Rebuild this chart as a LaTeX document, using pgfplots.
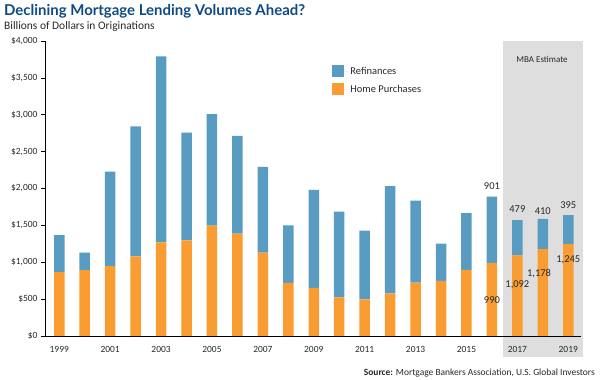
\documentclass[border=0pt]{standalone}
\usepackage{pgfplots}
\pgfplotsset{compat=1.18}
\usepackage{fontspec}
\setmainfont{Carlito}
\newfontfamily\titlefont{Lato}
\definecolor{refi}{RGB}{88,157,193}
\definecolor{purch}{RGB}{249,157,51}
\definecolor{mbagray}{RGB}{222,222,222}
\definecolor{titleblue}{RGB}{14,75,130}
\definecolor{txt}{RGB}{40,40,40}
\begin{document}
\begin{tikzpicture}
\useasboundingbox (0bp,0bp) rectangle (600bp,380bp);
\fill[mbagray] (502.7bp,23bp) rectangle (582.7bp,338.7bp);
\node[anchor=base west, inner sep=0pt, font=\titlefont\bfseries\fontsize{15}{18}\selectfont, text=titleblue] at (4bp,364bp) {Declining Mortgage Lending Volumes Ahead?};
\node[anchor=base west, inner sep=0pt, font=\fontsize{11.5}{13}\selectfont, text=txt] at (4bp,350bp) {Billions of Dollars in Originations};
\node[anchor=base east, inner sep=0pt, font=\fontsize{9.5}{11}\selectfont, text=txt] at (595bp,5bp) {\textbf{Source:} Mortgage Bankers Association, U.S. Global Investors};
\begin{axis}[
  at={(45bp,44bp)}, anchor=south west,
  scale only axis, width=536bp, height=295bp,
  xmin=-0.56, xmax=20.5, ymin=0, ymax=4000,
  ybar stacked, bar width=10.5bp,
  clip=false,
  axis x line*=bottom, axis y line*=left,
  axis line style={black, line width=0.8pt, -},
  xtick={0,2,...,20},
  xticklabels={1999,2001,2003,2005,2007,2009,2011,2013,2015,2017,2019},
  xtick style={draw=none},
  ytick={0,500,...,4000},
  yticklabels={\$0,\$500,{\$1,000},{\$1,500},{\$2,000},{\$2,500},{\$3,000},{\$3,500},{\$4,000}},
  ytick style={black, line width=0.6pt},
  tick align=outside, major tick length=4bp,
  tick label style={font=\fontsize{9.5}{11}\selectfont, text=txt},
  /pgf/number format/assume math mode=true,
  xticklabel style={yshift=-3bp},
  reverse legend,
  legend cell align=left,
  legend style={at={(0.535,0.918)}, anchor=north west, draw=none, fill=none,
    inner sep=0pt, row sep=6bp, font=\fontsize{10.5}{12}\selectfont, text=txt,
    nodes={inner sep=1.5bp}},
  legend image code/.code={\path[#1, draw=none] (0bp,-6bp) rectangle (12bp,6bp); \path (0bp,0bp) -- (17bp,0bp);},
]
\addplot[fill=purch, draw=none] coordinates {(0,865) (1,892) (2,946) (3,1081) (4,1270) (5,1297) (6,1496) (7,1388) (8,1131) (9,721) (10,653) (11,523) (12,496) (13,577) (14,725) (15,748) (16,896) (17,990) (18,1092) (19,1178) (20,1245)};
\addlegendentry{Home Purchases}
\addplot[fill=refi, draw=none] coordinates {(0,504) (1,239) (2,1284) (3,1762) (4,2523) (5,1460) (6,1513) (7,1324) (8,1162) (9,779) (10,1329) (11,1162) (12,932) (13,1455) (14,1109) (15,504) (16,771) (17,901) (18,479) (19,410) (20,395)};
\addlegendentry{Refinances}
\coordinate (t16) at (17,2027);
\coordinate (t17) at (18,1725);
\coordinate (t18) at (19,1694);
\coordinate (t19) at (20,1779);
\coordinate (b16) at (17,487);
\coordinate (b17) at (18,698);
\coordinate (b18) at (18.85,847);
\coordinate (b19) at (20,1027);
\coordinate (mba) at (18.97,3756);
\end{axis}
\begin{scope}[every node/.style={font=\fontsize{10.5}{12}\selectfont, text=txt}]
\node at (t16) {901};
\node at (t17) {479};
\node at (t18) {410};
\node at (t19) {395};
\node at (b16) {990};
\node at (b17) {1,092};
\node at (b18) {1,178};
\node at (b19) {1,245};
\node[font=\fontsize{9}{11}\selectfont] at (mba) {MBA Estimate};
\end{scope}
\end{tikzpicture}
\end{document}
